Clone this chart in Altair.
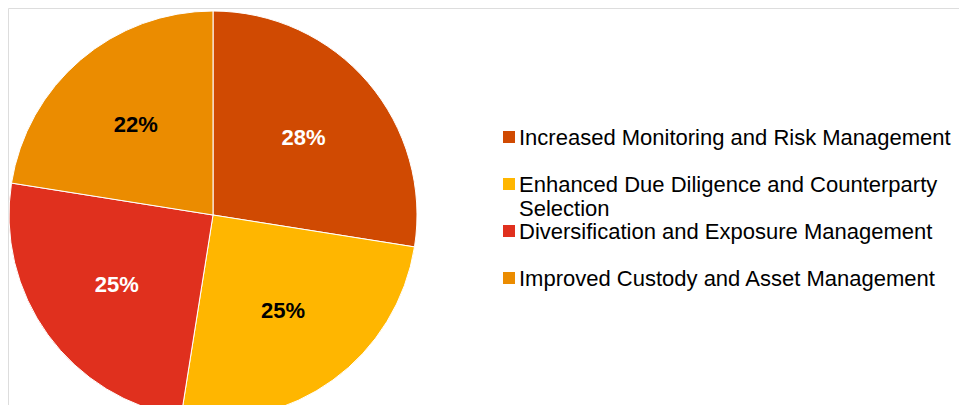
import altair as alt
import pandas as pd

categories = [
    "Increased Monitoring and Risk Management",
    "Enhanced Due Diligence and Counterparty Selection",
    "Diversification and Exposure Management",
    "Improved Custody and Asset Management",
]
legend_lines = [
    ["Increased Monitoring and Risk Management"],
    ["Enhanced Due Diligence and Counterparty", "Selection"],
    ["Diversification and Exposure Management"],
    ["Improved Custody and Asset Management"],
]
values = [27.5, 25.0, 25.0, 22.5]
labels = ["28%", "25%", "25%", "22%"]
colors = ["#D04A02", "#FFB600", "#E0301E", "#EB8C00"]
text_colors = ["white", "black", "white", "black"]

df = pd.DataFrame({
    "category": categories,
    "value": values,
    "label": labels,
    "order": list(range(len(categories))),
    "legend_text": ["\n".join(l) for l in legend_lines],
})

FONT = "Liberation Sans"
cx, cy = 205, 207

color_scale = alt.Scale(domain=categories, range=colors)

base = alt.Chart(df).encode(
    theta=alt.Theta("value:Q", stack=True),
    order=alt.Order("order:Q"),
)

arcs = base.mark_arc(outerRadius=204, stroke="white", strokeWidth=1).encode(
    x=alt.value(cx),
    y=alt.value(cy),
    color=alt.Color("category:N", scale=color_scale, legend=None),
)

text = base.mark_text(radius=119, font=FONT, fontSize=22, fontWeight="bold").encode(
    x=alt.value(cx),
    y=alt.value(cy),
    text="label:N",
    color=alt.Color(
        "category:N",
        scale=alt.Scale(domain=categories, range=text_colors),
        legend=None,
    ),
)

legend_y = alt.Y(
    "category:N",
    scale=alt.Scale(type="point", domain=categories, range=[129, 270], padding=0),
    axis=None,
)

leg_sym = alt.Chart(df).mark_square(size=144, opacity=1).encode(
    x=alt.value(501),
    y=legend_y,
    color=alt.Color("category:N", scale=color_scale, legend=None),
)

leg_txt = alt.Chart(df).mark_text(
    align="left", baseline="alphabetic", dy=7.5, font=FONT, fontSize=22,
    lineBreak="\n", lineHeight=24, color="black",
).encode(
    x=alt.value(511),
    y=legend_y,
    text="legend_text:N",
)

chart = (
    alt.layer(arcs, text, leg_sym, leg_txt)
    .resolve_scale(color="independent")
    .properties(width=951, height=397, padding=0, autosize=alt.AutoSizeParams(type="none"))
    .configure_view(stroke="transparent", strokeWidth=0)
    .configure(background="white")
)

chart.save("out.html", embed_options={"renderer": "svg", "actions": False})
